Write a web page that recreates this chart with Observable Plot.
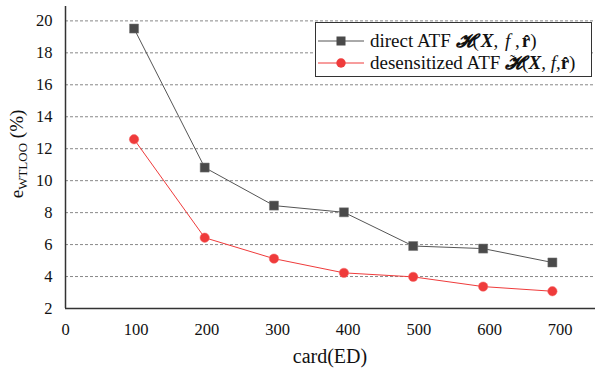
<!DOCTYPE html>
<html>
<head>
<meta charset="utf-8">
<script src="https://cdn.jsdelivr.net/npm/d3@7"></script>
<script src="https://cdn.jsdelivr.net/npm/@observablehq/plot@0.6"></script>
<style>
  html, body { margin: 0; padding: 0; background: #fff; }
  #wrap { position: relative; width: 595px; height: 368px; font-family: "Liberation Serif", "Times New Roman", serif; }
  #wrap svg, #wrap svg text { font-family: "Liberation Serif", "Times New Roman", serif !important; }
  #legend { position: absolute; left: 315px; top: 22px; width: 277px; height: 55px; border: 1px solid #333; background: #fff; box-sizing: border-box; font-size: 19px; color: #111; }
  .row { position: absolute; left: 0; height: 22px; display: flex; align-items: center; white-space: nowrap; }
  .row svg { margin-left: 2px; margin-right: 6px; }
  .m { font-weight: bold; font-style: italic; }
  .sp { margin-left: 2px; }
  .tl { position: relative; display: inline-block; }
  .tl .t { position: absolute; left: 5px; top: 1px; font-size: 15px; font-weight: normal; font-style: normal; line-height: 1; }
</style>
</head>
<body>
<div id="wrap"></div>
<script>
const cardED = [97, 197, 295, 394, 492, 591, 689];
const directATF = [19.52, 10.82, 8.44, 8.02, 5.91, 5.75, 4.88];
const desensitizedATF = [12.59, 6.43, 5.12, 4.23, 3.98, 3.37, 3.08];
const seriesNames = ["direct ATF", "desensitized ATF"];
const xTicks = [0, 100, 200, 300, 400, 500, 600, 700];
const yTicks = [2, 4, 6, 8, 10, 12, 14, 16, 18, 20];

const directData = cardED.map((x, i) => ({x, y: directATF[i]}));
const desData = cardED.map((x, i) => ({x, y: desensitizedATF[i]}));

const BLACK = "#4a4a4a";
const RED = "#ef3b3b";

const chart = Plot.plot({
  width: 595,
  height: 368,
  marginLeft: 65,
  marginRight: 0,
  marginTop: 6,
  marginBottom: 60,
  style: {fontSize: "16.5px", color: "#111", background: "#fff"},
  x: {domain: [0, 750]},
  y: {domain: [2, 20.9]},
  marks: [
    Plot.gridY(yTicks.filter(d => d > 2), {stroke: "#888", strokeOpacity: 1, strokeDasharray: "3,2", strokeWidth: 1}),
    Plot.axisX(xTicks, {tickSize: 0, tickPadding: 15, label: null, fontSize: 16.5}),
    Plot.axisY(yTicks, {tickSize: 0, tickPadding: 13, label: null, fontSize: 16.5}),
    Plot.ruleX([0], {stroke: "#333", strokeWidth: 1.5}),
    Plot.ruleY([2], {stroke: "#333", strokeWidth: 1.5}),
    Plot.line(directData, {x: "x", y: "y", stroke: "#555", strokeWidth: 1}),
    Plot.dot(directData, {x: "x", y: "y", symbol: "square", r: 5.1, fill: BLACK, stroke: "#777", strokeWidth: 0.5}),
    Plot.line(desData, {x: "x", y: "y", stroke: RED, strokeWidth: 1}),
    Plot.dot(desData, {x: "x", y: "y", symbol: "circle", r: 4.7, fill: RED, stroke: "#f56a6a", strokeWidth: 0.5})
  ]
});

const wrap = document.getElementById("wrap");
wrap.appendChild(chart);

// axis titles
const svg = d3.select(chart);
svg.append("text")
  .attr("x", 330).attr("y", 363)
  .attr("text-anchor", "middle")
  .attr("font-size", 20)
  .attr("fill", "#111")
  .text("card(ED)");
const yl = svg.append("text")
  .attr("transform", "translate(23,154) rotate(-90)")
  .attr("text-anchor", "middle")
  .attr("font-size", 19)
  .attr("fill", "#111");
yl.append("tspan").text("e");
yl.append("tspan").attr("font-size", 13).attr("dy", 4).text("WTLOO");
yl.append("tspan").attr("dy", -4).text(" (%)");

// legend
const legend = document.createElement("div");
legend.id = "legend";
legend.innerHTML = `
  <div class="row" style="top:7px">
    <svg width="46" height="12"><line x1="0" x2="46" y1="6" y2="6" stroke="#555" stroke-width="1"/><rect x="18.5" y="1.5" width="9" height="9" fill="${BLACK}"/></svg>
    <span>${seriesNames[0]} <span class="m">𝓗</span>(<span class="m sp">X</span>, <i class="sp">f</i> ,<b class="sp">r&#770;</b>)</span>
  </div>
  <div class="row" style="top:29px">
    <svg width="46" height="12"><line x1="0" x2="46" y1="6" y2="6" stroke="${RED}" stroke-width="1"/><circle cx="23" cy="6" r="4.7" fill="${RED}"/></svg>
    <span>${seriesNames[1]} <span class="tl m">𝓗<span class="t">&#732;</span></span>(<span class="m">X</span>, <i>f</i>,<b>r&#770;</b>)</span>
  </div>`;
wrap.appendChild(legend);
</script>
</body>
</html>
